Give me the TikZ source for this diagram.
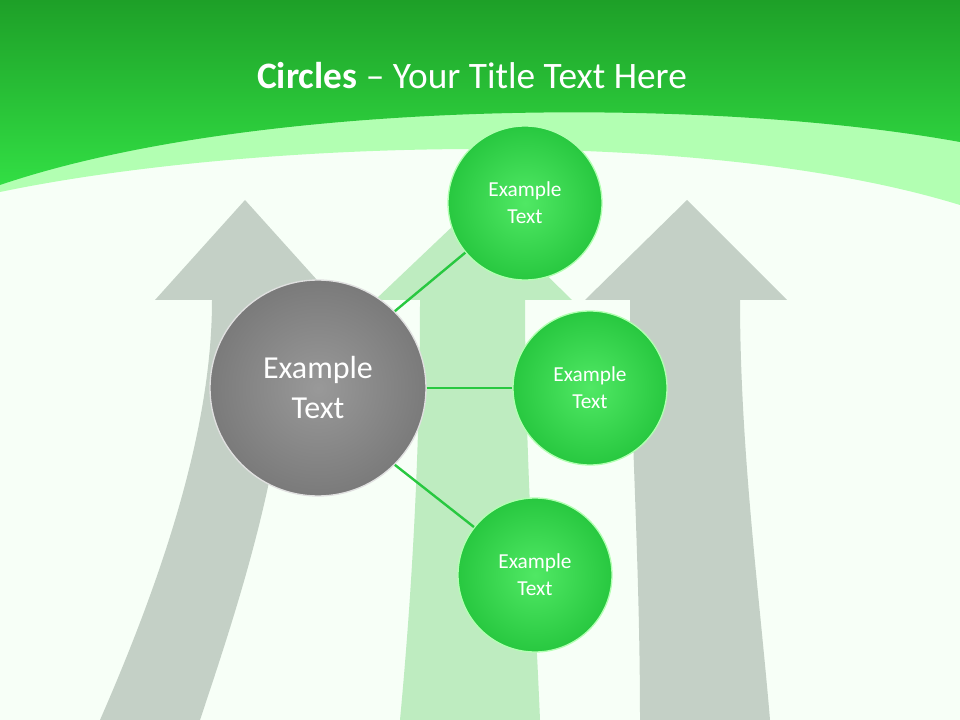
\documentclass[tikz,border=0pt]{standalone}
\usepackage{fontspec}
\setmainfont{Carlito}
\definecolor{arg}{RGB}{196,208,198}
\definecolor{arm}{RGB}{190,236,192}
\definecolor{gin}{RGB}{80,232,100}
\definecolor{gout}{RGB}{40,200,64}
\definecolor{htop}{RGB}{30,160,40}
\definecolor{hbot}{RGB}{50,222,68}
\begin{document}
\begin{tikzpicture}[x=0.75pt,y=-0.75pt,
  gc/.style={circle,minimum size=154*0.75pt,draw=white!70!green,line width=1pt,shading=radial,inner color=gin,outer color=gout,text=white,font=\fontsize{16}{20}\selectfont,align=center},
  bc/.style={circle,minimum size=216*0.75pt,draw=black!12,line width=1pt,shading=radial,inner color=black!40,outer color=black!52,text=white,font=\fontsize{24}{30}\selectfont,align=center},
  conn/.style={draw=gout,line width=1.8pt},
  arrowg/.style={fill=arg}]
\useasboundingbox (0,0) rectangle (960,720);
\fill[green!3!white] (0,0) rectangle (960,720);
% arrows
\fill[arrowg] (100,720) .. controls (170,560) and (212,420) .. (212,300) -- (155,300) -- (245,200) -- (335,300) -- (290,300) .. controls (290,450) and (240,600) .. (200,720) -- cycle;
\fill[arm] (400,720) .. controls (415,560) and (420,420) .. (420,300) -- (375,300) -- (475,205) -- (572,300) -- (525,300) .. controls (525,450) and (535,600) .. (540,720) -- cycle;
\fill[arrowg] (640,720) .. controls (640,560) and (630,420) .. (630,300) -- (585,300) -- (687,200) -- (787,300) -- (740,300) .. controls (740,450) and (760,600) .. (770,720) -- cycle;
% header
\fill[green!30!white] (0,0) -- (960,0) -- (960,205) .. controls (700,125) and (250,140) .. (0,192) -- cycle;
\shade[top color=htop,bottom color=hbot] (0,0) -- (960,0) -- (960,142) .. controls (700,95) and (250,100) .. (0,185) -- cycle;
\node[text=white,font=\fontsize{28}{32}\selectfont] (title) at (472,76) {\textbf{Circles} -- Your Title Text Here};
% circles
\node[bc] (c) at (318,388) {Example\\Text};
\node[gc] (a) at (525,203) {Example\\Text};
\node[gc] (b) at (590,388) {Example\\Text};
\node[gc] (d) at (535,575) {Example\\Text};
\draw[conn] (c.45) -- (a);
\draw[conn] (c) -- (b);
\draw[conn] (c.-45) -- (d);
\end{tikzpicture}
\end{document}
